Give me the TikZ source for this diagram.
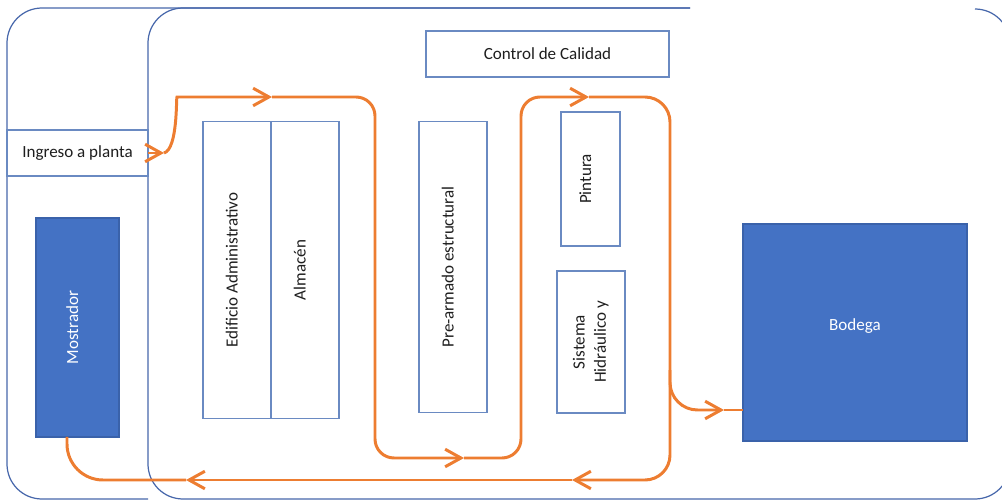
\documentclass[tikz,border=0pt]{standalone}
\usepackage{fontspec}
\setmainfont{Carlito}
\usepackage{graphicx}
\usetikzlibrary{arrows.meta}
\definecolor{OrangeA}{HTML}{ED7D31}
\definecolor{BlueA}{HTML}{4472C4}
\definecolor{BlueB}{HTML}{3A62AA}
\definecolor{BlueLine}{HTML}{6A8AC2}
\definecolor{WallA}{HTML}{4767AB}
\definecolor{TextA}{HTML}{1E1E1E}
\tikzset{
  area/.style={draw=BlueLine, line width=0.6pt, fill=white, text=TextA,
               inner sep=0pt, outer sep=0pt, align=center,
               font=\fontsize{9.7}{12}\selectfont},
  dark/.style={fill=BlueA, draw=BlueB, text=white},
  wall/.style={draw=WallA, line width=0.7pt, rounded corners=0.7cm},
  flow/.style={draw=OrangeA, line width=1.7pt, rounded corners=0.38cm},
  barb/.style={-{Straight Barb[length=9pt, width=10pt]}},
}
% rotated label, nudged a little towards the left edge
\newcommand{\vtext}[1]{\rotatebox{90}{\raisebox{3pt}[\height][\depth]{#1}}}

\begin{document}
\begin{tikzpicture}[x=0.02cm, y=-0.02cm]
  \useasboundingbox (0,0) rectangle (1002,500);
  \clip (0,0) rectangle (1002,500);

  % ---- plant outline ----
  \draw[wall] (690,8) -- (7,8) -- (7,499) -- (148,499);
  \draw[wall] (690,8) -- (148,8) -- (148,499) -- (1010,499) -- (1010,9) -- (976,9);

  % ---- areas ----
  \node[area, minimum width=2.82cm, minimum height=0.92cm] (ing) at (77.5,153) {Ingreso a planta};
  \node[area, dark, minimum width=1.66cm, minimum height=4.38cm] (mos) at (77.5,327.5) {\vtext{Mostrador}};
  \node[area, minimum width=1.36cm, minimum height=5.96cm] (edif) at (237,270) {\vtext{Edificio Administrativo}};
  \node[area, minimum width=1.36cm, minimum height=5.96cm] (alm) at (305,270) {\vtext{Almacén}};
  \node[area, minimum width=1.36cm, minimum height=5.84cm] (pre) at (453,267) {\vtext{Pre-armado estructural}};
  \node[area, minimum width=4.86cm, minimum height=0.92cm] (cal) at (547.5,54) {Control de Calidad};
  \node[area, minimum width=1.18cm, minimum height=2.68cm] (pin) at (590.5,179) {\vtext{Pintura}};
  \node[area, minimum width=1.36cm, minimum height=2.84cm] (sis) at (591,342)
       {\rotatebox{90}{\begin{tabular}{@{}c@{}}Sistema\\Hidráulico y\end{tabular}}};
  \node[area, dark, minimum width=4.48cm, minimum height=4.34cm] (bod) at (855,332.5)
       {\raisebox{3.5pt}[\height][\depth]{Bodega}};

  % ---- route points ----
  \coordinate (a1) at (164,153);
  \coordinate (s1) at (196,97);
  \coordinate (a2) at (272,97);
  \coordinate (k1) at (375,97);
  \coordinate (k2) at (375,458);
  \coordinate (a3) at (464,458);
  \coordinate (k3) at (521,458);
  \coordinate (k4) at (521,97);
  \coordinate (a4) at (589,97);
  \coordinate (k5) at (670,97);
  \coordinate (k6) at (670,410);
  \coordinate (a5) at (724,410);
  \coordinate (k7) at (670,370);
  \coordinate (k8) at (670,480);
  \coordinate (a6) at (572,480);
  \coordinate (a7) at (186,480);
  \coordinate (k9) at (67,480);

  % ---- material flow ----
  \draw[flow, barb] (ing.east) -- (a1);
  \draw[flow, barb] (a1) .. controls +(14,-4) and +(-20,0) .. (s1) -- (a2);
  \draw[flow, barb] (a2) -- (k1) -- (k2) -- (a3);
  \draw[flow, barb] (a3) -- (k3) -- (k4) -- (a4);
  \draw[flow, barb, rounded corners=0.5cm] (a4) -- (k5) -- (k8) -- (a6);
  \draw[flow, barb, rounded corners=0.55cm] (k7) -- (k6) -- (a5);
  \draw[flow] (a5) -- (bod.west |- a5);
  \draw[flow, barb] (a6) -- (a7);
  \draw[flow, rounded corners=0.72cm] (a7) -- (k9) -- (k9 |- mos.south);
\end{tikzpicture}
\end{document}
